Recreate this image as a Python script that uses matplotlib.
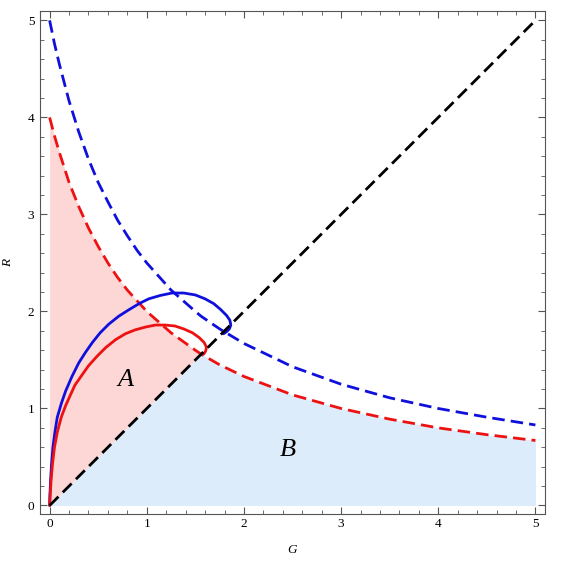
import numpy as np
import matplotlib
matplotlib.use("Agg")
from matplotlib import pyplot as plt
from matplotlib.ticker import MultipleLocator

# dashed curves (G, R)
g_dash = [0, 0.05, 0.1, 0.2, 0.3, 0.4, 0.5, 0.6, 0.7, 0.8, 0.9, 1.0, 1.25, 1.5, 1.56, 1.75, 2.0, 2.5, 3.0, 3.5, 4.0, 4.5, 5.0]
r_red_dash = [4.0, 3.81, 3.64, 3.33, 3.08, 2.86, 2.67, 2.5, 2.35, 2.22, 2.11, 2.0, 1.78, 1.6, 1.56, 1.45, 1.33, 1.14, 1.0, 0.89, 0.8, 0.73, 0.67]
r_blue_dash = [5.0, 4.76, 4.55, 4.17, 3.85, 3.57, 3.33, 3.13, 2.94, 2.78, 2.63, 2.5, 2.22, 2.0, 1.95, 1.82, 1.67, 1.43, 1.25, 1.11, 1.0, 0.91, 0.83]

diag_g = [0, 5]
diag_r = [0, 5]

# solid trajectories
blue_g = [0.0, 0.003, 0.01, 0.02, 0.034, 0.055, 0.079, 0.12, 0.165, 0.23, 0.30, 0.37, 0.44, 0.52, 0.61, 0.71,
          0.82, 0.92, 1.02, 1.14, 1.26, 1.38, 1.50, 1.60, 1.69, 1.76, 1.82, 1.855, 1.865, 1.85, 1.82, 1.79]
blue_r = [0.0, 0.10, 0.26, 0.43, 0.60, 0.76, 0.91, 1.05, 1.18, 1.33, 1.47, 1.58, 1.68, 1.78, 1.87, 1.95,
          2.02, 2.08, 2.13, 2.165, 2.19, 2.19, 2.17, 2.13, 2.08, 2.02, 1.96, 1.91, 1.86, 1.82, 1.79, 1.77]
red_g = [0.0, 0.005, 0.015, 0.03, 0.05, 0.08, 0.12, 0.165, 0.21, 0.26, 0.33, 0.40, 0.49, 0.58, 0.68, 0.78,
         0.88, 0.99, 1.09, 1.19, 1.29, 1.38, 1.47, 1.54, 1.59, 1.615, 1.605, 1.585]
red_r = [0.0, 0.10, 0.26, 0.43, 0.60, 0.76, 0.91, 1.03, 1.13, 1.24, 1.34, 1.44, 1.54, 1.63, 1.71, 1.77,
         1.81, 1.84, 1.86, 1.86, 1.85, 1.82, 1.78, 1.73, 1.68, 1.63, 1.59, 1.56]

g_cross = 1.56  # red dashed meets diagonal

plt.rcParams['font.family'] = ['Liberation Serif', 'DejaVu Serif']

fig = plt.figure(figsize=(5.62, 5.62), dpi=100)
ax = fig.add_axes([0.071, 0.085, 0.899, 0.896])

gd = np.array(g_dash)
rr = np.array(r_red_dash)
rb = np.array(r_blue_dash)

# shaded regions
m = gd <= g_cross
ax.fill_between(gd[m], gd[m], rr[m], color='#fdd6d6', lw=0, zorder=1)
ax.fill_between(gd, 0, np.minimum(gd, rr), color='#ddecfb', lw=0, zorder=1)

dash = (0, (4.5, 2.2))
ax.plot(gd, rb, color='#1010dd', lw=2.0, linestyle=dash, zorder=3)
ax.plot(gd, rr, color='#ee1111', lw=2.0, linestyle=dash, zorder=3)
ax.plot(blue_g, blue_r, color='#1010dd', lw=2.0, zorder=4, solid_capstyle='round', solid_joinstyle='round')
ax.plot(red_g, red_r, color='#ee1111', lw=2.0, zorder=4, solid_capstyle='round', solid_joinstyle='round')
ax.plot(diag_g, diag_r, color='black', lw=2.0, linestyle=dash, zorder=5)

ax.text(0.78, 1.29, "A", fontsize=19, style='italic', ha='center', va='center')
ax.text(2.45, 0.57, "B", fontsize=19, style='italic', ha='center', va='center')

ax.set_xlim(-0.1, 5.1)
ax.set_ylim(-0.09, 5.1)
ax.xaxis.set_major_locator(MultipleLocator(1))
ax.yaxis.set_major_locator(MultipleLocator(1))
ax.xaxis.set_minor_locator(MultipleLocator(0.2))
ax.yaxis.set_minor_locator(MultipleLocator(0.2))
ax.tick_params(which='both', direction='in', top=True, right=True, color='#555555', labelsize=9.5)
ax.tick_params(which='major', length=5, width=0.8)
ax.tick_params(which='minor', length=3, width=0.6)
ax.tick_params(axis='x', pad=3)
ax.tick_params(axis='y', pad=4)
for s in ax.spines.values():
    s.set_color('#555555')
    s.set_linewidth(0.8)

ax.set_xlabel("G", style='italic', fontsize=9.5, labelpad=10)
ax.set_ylabel("R", style='italic', fontsize=9.5, labelpad=10)

fig.savefig("out.png", dpi=100)
